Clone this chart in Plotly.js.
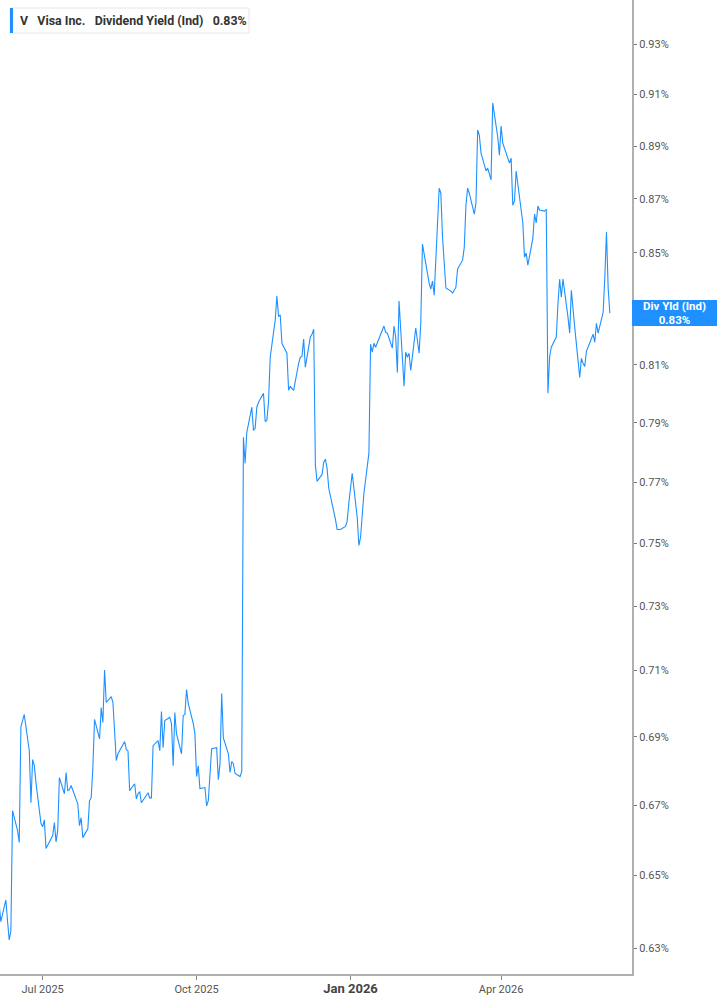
<!DOCTYPE html>
<html>
<head>
<meta charset="utf-8">
<script src="https://cdn.plot.ly/plotly-3.0.1.min.js"></script>
<style>
  html, body { margin: 0; padding: 0; background: #ffffff; }
  #chart { width: 717px; height: 1005px; }
</style>
</head>
<body>
<div id="chart"></div>
<script>
// Trading dates (Jun 4 2025 - Jun 5 2026)
const dates = [
  "2025-06-04","2025-06-05","2025-06-06","2025-06-09","2025-06-10","2025-06-11","2025-06-12","2025-06-13","2025-06-16","2025-06-17","2025-06-18","2025-06-20","2025-06-23","2025-06-24","2025-06-25","2025-06-26","2025-06-27","2025-06-30",
  "2025-07-01","2025-07-02","2025-07-03","2025-07-07","2025-07-08","2025-07-09","2025-07-10","2025-07-11","2025-07-14","2025-07-15","2025-07-16","2025-07-17","2025-07-18","2025-07-21","2025-07-22","2025-07-23","2025-07-24","2025-07-25","2025-07-28","2025-07-29","2025-07-30","2025-07-31",
  "2025-08-01","2025-08-04","2025-08-05","2025-08-06","2025-08-07","2025-08-08","2025-08-11","2025-08-12","2025-08-13","2025-08-14","2025-08-15","2025-08-18","2025-08-19","2025-08-20","2025-08-21","2025-08-22","2025-08-25","2025-08-26","2025-08-27","2025-08-28","2025-08-29",
  "2025-09-02","2025-09-03","2025-09-04","2025-09-05","2025-09-08","2025-09-09","2025-09-10","2025-09-11","2025-09-12","2025-09-15","2025-09-16","2025-09-17","2025-09-18","2025-09-19","2025-09-22","2025-09-23","2025-09-24","2025-09-25","2025-09-26","2025-09-29","2025-09-30",
  "2025-10-01","2025-10-02","2025-10-03","2025-10-06","2025-10-07","2025-10-08","2025-10-09","2025-10-10","2025-10-13","2025-10-14","2025-10-15","2025-10-16","2025-10-17","2025-10-20","2025-10-21","2025-10-22","2025-10-23","2025-10-24","2025-10-27","2025-10-28","2025-10-29","2025-10-30","2025-10-31",
  "2025-11-03","2025-11-04","2025-11-05","2025-11-06","2025-11-07","2025-11-10","2025-11-11","2025-11-12","2025-11-13","2025-11-14","2025-11-17","2025-11-18","2025-11-19","2025-11-20","2025-11-21","2025-11-24","2025-11-25","2025-11-26","2025-11-28",
  "2025-12-01","2025-12-02","2025-12-03","2025-12-04","2025-12-05","2025-12-08","2025-12-09","2025-12-10","2025-12-11","2025-12-12","2025-12-15","2025-12-16","2025-12-17","2025-12-18","2025-12-19","2025-12-22","2025-12-23","2025-12-24","2025-12-26","2025-12-29","2025-12-30","2025-12-31",
  "2026-01-02","2026-01-05","2026-01-06","2026-01-07","2026-01-08","2026-01-09","2026-01-12","2026-01-13","2026-01-14","2026-01-15","2026-01-16","2026-01-20","2026-01-21","2026-01-22","2026-01-23","2026-01-26","2026-01-27","2026-01-28","2026-01-29","2026-01-30",
  "2026-02-02","2026-02-03","2026-02-04","2026-02-05","2026-02-06","2026-02-09","2026-02-10","2026-02-11","2026-02-12","2026-02-13","2026-02-17","2026-02-18","2026-02-19","2026-02-20","2026-02-23","2026-02-24","2026-02-25","2026-02-26","2026-02-27",
  "2026-03-02","2026-03-03","2026-03-04","2026-03-05","2026-03-06","2026-03-09","2026-03-10","2026-03-11","2026-03-12","2026-03-13","2026-03-16","2026-03-17","2026-03-18","2026-03-19","2026-03-20","2026-03-23","2026-03-24","2026-03-25","2026-03-26","2026-03-27","2026-03-30","2026-03-31",
  "2026-04-01","2026-04-02","2026-04-06","2026-04-07","2026-04-08","2026-04-09","2026-04-10","2026-04-13","2026-04-14","2026-04-15","2026-04-16","2026-04-17","2026-04-20","2026-04-21","2026-04-22","2026-04-23","2026-04-24","2026-04-27","2026-04-28","2026-04-29","2026-04-30",
  "2026-05-01","2026-05-04","2026-05-05","2026-05-06","2026-05-07","2026-05-08","2026-05-11","2026-05-12","2026-05-13","2026-05-14","2026-05-15","2026-05-18","2026-05-19","2026-05-20","2026-05-21","2026-05-22","2026-05-26","2026-05-27","2026-05-28","2026-05-29",
  "2026-06-01","2026-06-02","2026-06-03","2026-06-04","2026-06-05"
];

// Dividend yield (%) per trading day
const yieldPct = [
  0.6430,0.6421,0.6372,0.6432,0.6374,0.6322,0.6347,0.6684,0.6627,0.6593,0.6930,0.6967,0.6859,0.6707,0.6833,0.6815,0.6765,0.6647,
  0.6638,0.6658,0.6576,0.6613,0.6650,0.6595,0.6627,0.6780,0.6733,0.6795,0.6742,0.6745,0.6757,0.6721,0.6704,0.6641,0.6664,0.6607,0.6632,0.6713,0.6721,0.6809,
  0.6952,0.6894,0.6988,0.6943,0.7102,0.7003,0.7021,0.7003,0.6918,0.6830,0.6850,0.6880,0.6886,0.6862,0.6859,0.6742,0.6762,0.6718,0.6733,0.6739,0.6707,
  0.6736,0.6721,0.6721,0.6874,0.6889,0.6859,0.6976,0.6868,0.6949,0.6958,0.6940,0.6815,0.6973,0.6909,0.6850,0.6964,0.6967,0.7042,0.7000,0.6940,0.6909,
  0.6783,0.6815,0.6748,0.6751,0.6698,0.6713,0.6777,0.6865,0.6868,0.6774,0.6821,0.7030,0.6897,0.6850,0.6795,0.6827,0.6821,0.6792,0.6783,0.6798,0.7851,0.7763,0.7867,
  0.7953,0.7874,0.7881,0.7953,0.7970,0.8001,0.7904,0.7908,0.7970,0.8126,0.8257,0.8343,0.8271,0.8275,0.8175,0.8140,0.8011,0.8025,0.8011,
  0.8105,0.8126,0.8129,0.8190,0.8091,0.8197,0.8207,0.8225,0.7756,0.7703,0.7726,0.7767,0.7777,0.7746,0.7680,0.7608,0.7578,0.7545,0.7545,0.7555,0.7572,0.7631,
  0.7730,0.7585,0.7493,0.7519,0.7601,0.7663,0.7797,0.8172,0.8144,0.8175,0.8161,0.8221,0.8236,0.8214,0.8211,0.8158,0.8236,0.8197,0.8073,0.8325,
  0.8025,0.8144,0.8126,0.8140,0.8080,0.8229,0.8172,0.8140,0.8246,0.8532,0.8390,0.8368,0.8397,0.8346,0.8740,0.8721,0.8558,0.8455,0.8372,
  0.8361,0.8354,0.8364,0.8375,0.8441,0.8473,0.8521,0.8676,0.8740,0.8721,0.8643,0.8687,0.8962,0.8942,0.8873,0.8805,0.8816,0.8790,0.8771,0.9067,0.8935,0.8865,
  0.8977,0.8911,0.8835,0.8854,0.8676,0.8691,0.8805,0.8658,0.8610,0.8484,0.8499,0.8455,0.8554,0.8643,0.8610,0.8673,0.8658,0.8654,0.8661,0.8001,0.8126,
  0.8161,0.8197,0.8317,0.8404,0.8339,0.8404,0.8267,0.8211,0.8364,0.8310,0.8232,0.8056,0.8122,0.8105,0.8094,0.8147,0.8207,0.8179,0.8246,0.8211,
  0.8285,0.8412,0.8576,0.8372,0.8282
];

// Y tick values and labels (0.83% label is hidden behind the current-value box in the reference)
const yTickVals = [0.63,0.65,0.67,0.69,0.71,0.73,0.75,0.77,0.79,0.81,0.83,0.85,0.87,0.89,0.91,0.93];
const yTickText = ["0.63%","0.65%","0.67%","0.69%","0.71%","0.73%","0.75%","0.77%","0.79%","0.81%","","0.85%","0.87%","0.89%","0.91%","0.93%"];
const xTickVals = ["2025-07-01","2025-10-01","2026-01-01","2026-04-01"];
const xTickText = ["Jul 2025","Oct 2025","<b><span style=\"font-size:13px;fill:#444\">Jan 2026</span></b>","Apr 2026"];

const ticker = "V";
const company = "Visa Inc.";
const metric = "Dividend Yield (Ind)";
const shortMetric = "Div Yld (Ind)";

const lastVal = yieldPct[yieldPct.length - 1];
const lineColor = "#1e90ff";
const FONT = "Roboto, 'Liberation Sans', sans-serif";

const trace = {
  x: dates,
  y: yieldPct,
  type: "scatter",
  mode: "lines",
  line: { color: lineColor, width: 1.1 },
  hoverinfo: "skip"
};

const layout = {
  width: 717,
  height: 1005,
  margin: { l: 0, r: 85, t: 0, b: 31 },
  paper_bgcolor: "#ffffff",
  plot_bgcolor: "#ffffff",
  showlegend: false,
  font: { family: FONT, color: "#555555", size: 11 },
  xaxis: {
    type: "date",
    range: ["2025-06-05 12:00", "2026-06-18 06:00"],
    tickvals: xTickVals,
    ticktext: xTickText,
    showgrid: false,
    zeroline: false,
    showline: true,
    linecolor: "#b0b0b0",
    linewidth: 2,
    ticks: "outside",
    ticklen: 4,
    tickcolor: "#888888",
    tickfont: { family: FONT, size: 11, color: "#555555" },
    fixedrange: true
  },
  yaxis: {
    type: "log",
    side: "right",
    range: [Math.log10(0.6230), Math.log10(0.9478)],
    tickvals: yTickVals,
    ticktext: yTickText,
    showgrid: false,
    zeroline: false,
    showline: true,
    linecolor: "#b0b0b0",
    linewidth: 2,
    ticks: "outside",
    ticklen: 3,
    tickcolor: "#777777",
    tickfont: { family: FONT, size: 11, color: "#555555" },
    fixedrange: true
  },
  shapes: [
    {
      type: "rect", xref: "paper", yref: "paper",
      x0: 10 / 632, x1: 249 / 632, y0: 1 - 33 / 974, y1: 1 - 8 / 974,
      fillcolor: "#ffffff", line: { color: "#e6e6e6", width: 1 }, layer: "above"
    },
    {
      type: "rect", xref: "paper", yref: "paper",
      x0: 10 / 632, x1: 13 / 632, y0: 1 - 33 / 974, y1: 1 - 8 / 974,
      fillcolor: lineColor, line: { width: 0 }, layer: "above"
    }
  ],
  annotations: [
    {
      xref: "paper", yref: "paper",
      x: 18 / 632, y: 1 - 20.5 / 974,
      xanchor: "left", yanchor: "middle",
      showarrow: false,
      align: "left",
      text: "<b>" + ticker + "</b>   <b>" + company + "</b>   <b>" + metric + "</b>   <b>" + lastVal.toFixed(2) + "%</b>",
      font: { family: FONT, size: 12.4, color: "#333333" }
    },
    {
      xref: "paper", yref: "y",
      x: 1, y: Math.log10(lastVal),
      xanchor: "left", yanchor: "middle",
      showarrow: false,
      align: "center",
      width: 81, height: 22,
      text: "<b>" + shortMetric + "</b><br><b>" + lastVal.toFixed(2) + "%</b>",
      font: { family: FONT, size: 11.5, color: "#ffffff" },
      bgcolor: lineColor,
      borderwidth: 0,
      borderpad: 2
    }
  ]
};

Plotly.newPlot("chart", [trace], layout, { displayModeBar: false, staticPlot: true });
</script>
</body>
</html>
